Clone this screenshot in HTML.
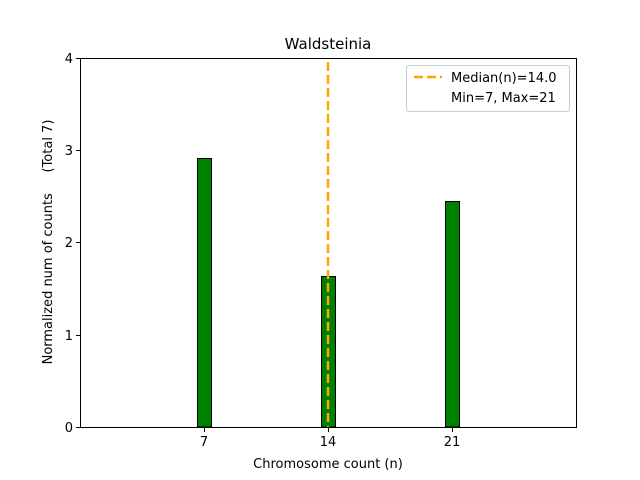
<!DOCTYPE html>
<html><head><meta charset="utf-8"><style>body{margin:0;background:#fff}svg{display:block}text{font-family:"DejaVu Sans","Liberation Sans",sans-serif;fill:#000}</style></head><body>
<svg width="640" height="480" viewBox="0 0 640 480" xmlns="http://www.w3.org/2000/svg">
<rect width="640" height="480" fill="#fff"/>
<text x="328" y="49" font-size="15" text-anchor="middle">Waldsteinia</text>
<rect x="197.5" y="158.5" width="14" height="268.5" fill="#008000" stroke="#000" stroke-width="1"/>
<rect x="321.5" y="276.5" width="14" height="150.5" fill="#008000" stroke="#000" stroke-width="1"/>
<rect x="445.5" y="201.5" width="14" height="225.5" fill="#008000" stroke="#000" stroke-width="1"/>
<line x1="328" y1="62" x2="328" y2="427" stroke="#ffa500" stroke-width="2.5" stroke-dasharray="9,4"/>
<rect x="80.5" y="58.5" width="496" height="369" fill="none" stroke="#000" stroke-width="1"/>
<g stroke="#000" stroke-width="1">
<line x1="76" y1="427.5" x2="80" y2="427.5"/><line x1="76" y1="335.5" x2="80" y2="335.5"/><line x1="76" y1="242.5" x2="80" y2="242.5"/><line x1="76" y1="150.5" x2="80" y2="150.5"/><line x1="76" y1="58.5" x2="80" y2="58.5"/>
<line x1="204.5" y1="428" x2="204.5" y2="432"/><line x1="328.5" y1="428" x2="328.5" y2="432"/><line x1="452.5" y1="428" x2="452.5" y2="432"/>
</g>
<g font-size="13" text-anchor="end">
<text x="73" y="432">0</text><text x="73" y="340">1</text><text x="73" y="247">2</text><text x="73" y="155">3</text><text x="73" y="63">4</text>
</g>
<g font-size="13" text-anchor="middle">
<text x="204" y="446">7</text><text x="328" y="446">14</text><text x="452" y="446">21</text>
</g>
<text x="328" y="468" font-size="13" text-anchor="middle">Chromosome count (n)</text>
<text transform="translate(52,242) rotate(-90)" font-size="13" text-anchor="middle" style="white-space:pre" xml:space="preserve">Normalized num of counts     (Total 7)</text>
<rect x="406.5" y="65.5" width="163" height="46" rx="2" fill="#fff" fill-opacity="0.8" stroke="#ccc" stroke-width="1"/>
<line x1="414" y1="77" x2="442" y2="77" stroke="#ffa500" stroke-width="2.5" stroke-dasharray="9,4"/>
<text x="451" y="82" font-size="13">Median(n)=14.0</text>
<text x="451" y="102" font-size="13">Min=7, Max=21</text>
</svg>
</body></html>
